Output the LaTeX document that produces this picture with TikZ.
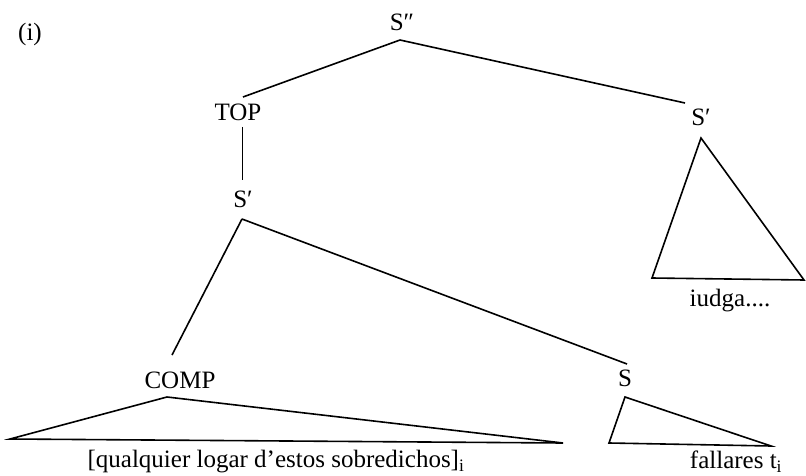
\documentclass[tikz,border=0pt]{standalone}
\usepackage{fontspec}
\setmainfont{Liberation Serif}
\begin{document}
\begin{tikzpicture}[x=1pt,y=-1pt,
  lab/.style={inner sep=0pt,font=\fontsize{25}{28}\selectfont},
  branch/.style={line width=1.6pt},
  thin branch/.style={line width=1.0pt},
  tri/.style={line width=1.6pt,line join=miter}]
\useasboundingbox (0,0) rectangle (806,476);
% labels
\node[lab] (ex) at (30,34) {(i)};
\node[lab] (Spp) at (402,22) {S″};
\node[lab] (TOP) at (238,112) {TOP};
\node[lab] (Sp1) at (243,199) {S′};
\node[lab] (Sp2) at (701,117) {S′};
\node[lab] (COMP) at (180,380) {COMP};
\node[lab] (S) at (625,378) {S};
\node[lab] (iud) at (730,301) {iudga....};
\node[lab] (qual) at (276,462) {[qualquier logar d’estos sobredichos]\textsubscript{i}};
\node[lab] (fal) at (736,462) {fallares t\textsubscript{i}};
% branch points
\coordinate (Spp-b) at (400,40);
\coordinate (TOP-t) at (243,97);
\coordinate (TOP-b) at (242,127);
\coordinate (Sp1-t) at (242,180);
\coordinate (Sp1-b) at (242,219);
\coordinate (Sp2-t) at (685,103);
\coordinate (COMP-t) at (172,355);
\coordinate (S-t) at (627,364);
% connectors
\draw[branch] (Spp-b) -- (TOP-t);
\draw[branch] (Spp-b) -- (Sp2-t);
\draw[thin branch] (TOP-b) -- (Sp1-t);
\draw[branch] (Sp1-b) -- (COMP-t);
\draw[branch] (Sp1-b) -- (S-t);
% triangles
\coordinate (t1a) at (701,138);
\coordinate (t1l) at (652,278);
\coordinate (t1r) at (804,280);
\draw[tri] (t1a) -- (t1l) -- (t1r) -- cycle;
\coordinate (t2a) at (167,397);
\coordinate (t2l) at (10,439);
\coordinate (t2r) at (563,443);
\draw[tri] (t2a) -- (t2l) -- (t2r) -- cycle;
\coordinate (t3a) at (625,397);
\coordinate (t3l) at (609,443);
\coordinate (t3r) at (771,446);
\draw[tri] (t3a) -- (t3l) -- (t3r) -- cycle;
\end{tikzpicture}
\end{document}
